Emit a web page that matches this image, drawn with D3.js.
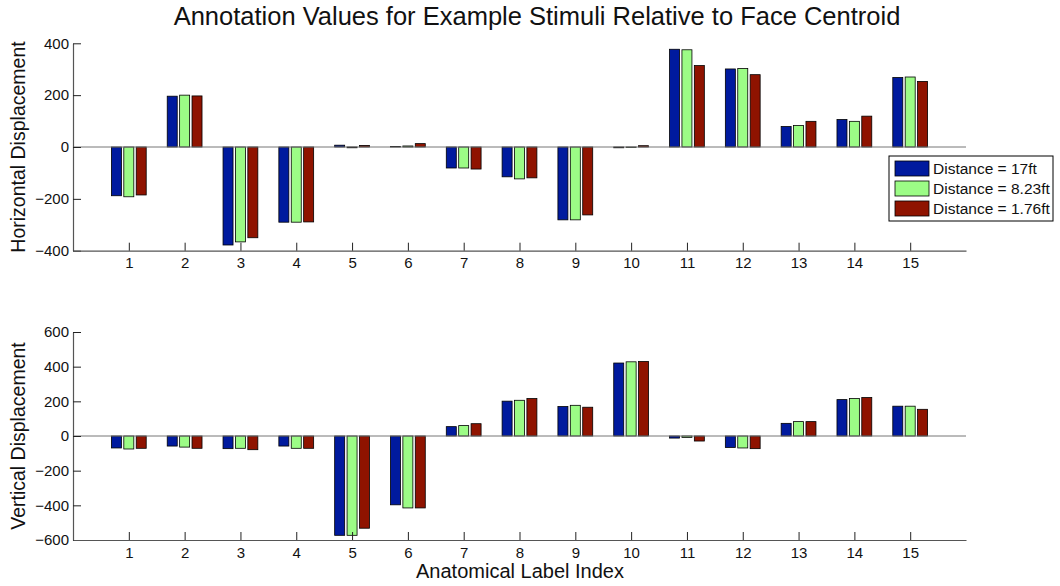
<!DOCTYPE html>
<html>
<head>
<meta charset="utf-8">
<script src="https://cdn.jsdelivr.net/npm/d3@7"></script>
<style>
body { margin: 0; background: #fff; }
svg text { font-family: "Liberation Sans", Arial, sans-serif; fill: #111; }
</style>
</head>
<body>
<svg id="chart" width="1060" height="586"></svg>
<script>
var labels = d3.range(1, 16);
var seriesNames = ["Distance = 17ft", "Distance = 8.23ft", "Distance = 1.76ft"];
var colors = ["#001a9e", "#9cfc86", "#8f1300"];

// horizontal displacement, one array per distance
var horiz17 = [-188, 196, -378, -290, 7, 2, -81, -115, -281, -3, 377, 301, 79, 106, 268];
var horiz823 = [-192, 200, -366, -290, -3, 4, -81, -123, -281, -2, 375, 303, 83, 99, 270];
var horiz176 = [-185, 197, -350, -289, 6, 13, -85, -119, -262, 5, 314, 279, 99, 119, 253];

// vertical displacement
var vert17 = [-69, -58, -73, -58, -573, -397, 54, 201, 170, 421, -12, -66, 73, 210, 172];
var vert823 = [-75, -64, -71, -71, -573, -415, 60, 206, 177, 428, -8, -69, 83, 216, 172];
var vert176 = [-71, -71, -79, -71, -532, -415, 71, 216, 166, 430, -29, -73, 83, 222, 154];

var horizTicks = [-400, -200, 0, 200, 400];
var vertTicks = [-600, -400, -200, 0, 200, 400, 600];

var svg = d3.select("#chart");
var left = 73, right = 966;

var x = d3.scaleLinear().domain([0, 16]).range([left, right]);
var barW = 10, barStep = 12.4;

function drawPanel(top, bottom, yDomain, ticks, series, yLabel) {
    var y = d3.scaleLinear().domain(yDomain).range([bottom, top]);
    var g = svg.append("g");

    // bars
    series.forEach(function(vals, s) {
        g.selectAll("rect.s" + s)
            .data(vals)
            .enter()
            .append("rect")
            .attr("x", function(d, i) { return x(labels[i]) + (s - 1) * barStep - barW / 2; })
            .attr("y", function(d) { return y(Math.max(0, d)); })
            .attr("width", barW)
            .attr("height", function(d) { return Math.abs(y(d) - y(0)); })
            .attr("fill", colors[s])
            .attr("stroke", "#000")
            .attr("stroke-width", 0.8);
    });

    // zero line
    g.append("line")
        .attr("x1", left).attr("x2", right)
        .attr("y1", y(0)).attr("y2", y(0))
        .attr("stroke", "#777").attr("stroke-width", 1);

    // axes, ticks inside like matlab
    var yAxis = d3.axisLeft(y).tickValues(ticks).tickSizeInner(-8).tickSizeOuter(0).tickPadding(4)
        .tickFormat(function(d) { return d < 0 ? "\u2212" + Math.abs(d) : d; });
    var ya = g.append("g").attr("transform", "translate(" + left + ",0)").call(yAxis);
    var xAxis = d3.axisBottom(x).tickValues(labels).tickSizeInner(-8).tickSizeOuter(0).tickPadding(7);
    var xa = g.append("g").attr("transform", "translate(0," + bottom + ")").call(xAxis);
    [ya, xa].forEach(function(a) {
        a.select(".domain").attr("stroke", "#555").attr("stroke-width", 1.2);
        a.selectAll(".tick line").attr("stroke", "#222");
        a.selectAll("text").style("font-size", "15px").attr("fill", "#111");
    });

    g.append("text")
        .attr("transform", "translate(25," + ((top + bottom) / 2) + ") rotate(-90)")
        .attr("text-anchor", "middle")
        .style("font-size", "19.5px")
        .text(yLabel);
}

drawPanel(43.3, 250.7, [-400, 400], horizTicks, [horiz17, horiz823, horiz176], "Horizontal Displacement");
drawPanel(332, 540, [-600, 600], vertTicks, [vert17, vert823, vert176], "Vertical Displacement");

svg.append("text")
    .attr("x", 537).attr("y", 25)
    .attr("text-anchor", "middle")
    .style("font-size", "25.5px")
    .text("Annotation Values for Example Stimuli Relative to Face Centroid");

svg.append("text")
    .attr("x", 520).attr("y", 578)
    .attr("text-anchor", "middle")
    .style("font-size", "20px")
    .text("Anatomical Label Index");

// legend
var lg = svg.append("g").attr("transform", "translate(889,156)");
lg.append("rect").attr("width", 164).attr("height", 65)
    .attr("fill", "#fff").attr("stroke", "#000").attr("stroke-width", 1);
var items = lg.selectAll("g.item").data(seriesNames).enter().append("g")
    .attr("transform", function(d, i) { return "translate(6," + (5 + i * 20) + ")"; });
items.append("rect").attr("width", 34).attr("height", 15)
    .attr("fill", function(d, i) { return colors[i]; })
    .attr("stroke", "#000").attr("stroke-width", 0.8);
items.append("text").attr("x", 38).attr("y", 13)
    .style("font-size", "15.5px")
    .text(function(d) { return d; });
</script>
</body>
</html>
